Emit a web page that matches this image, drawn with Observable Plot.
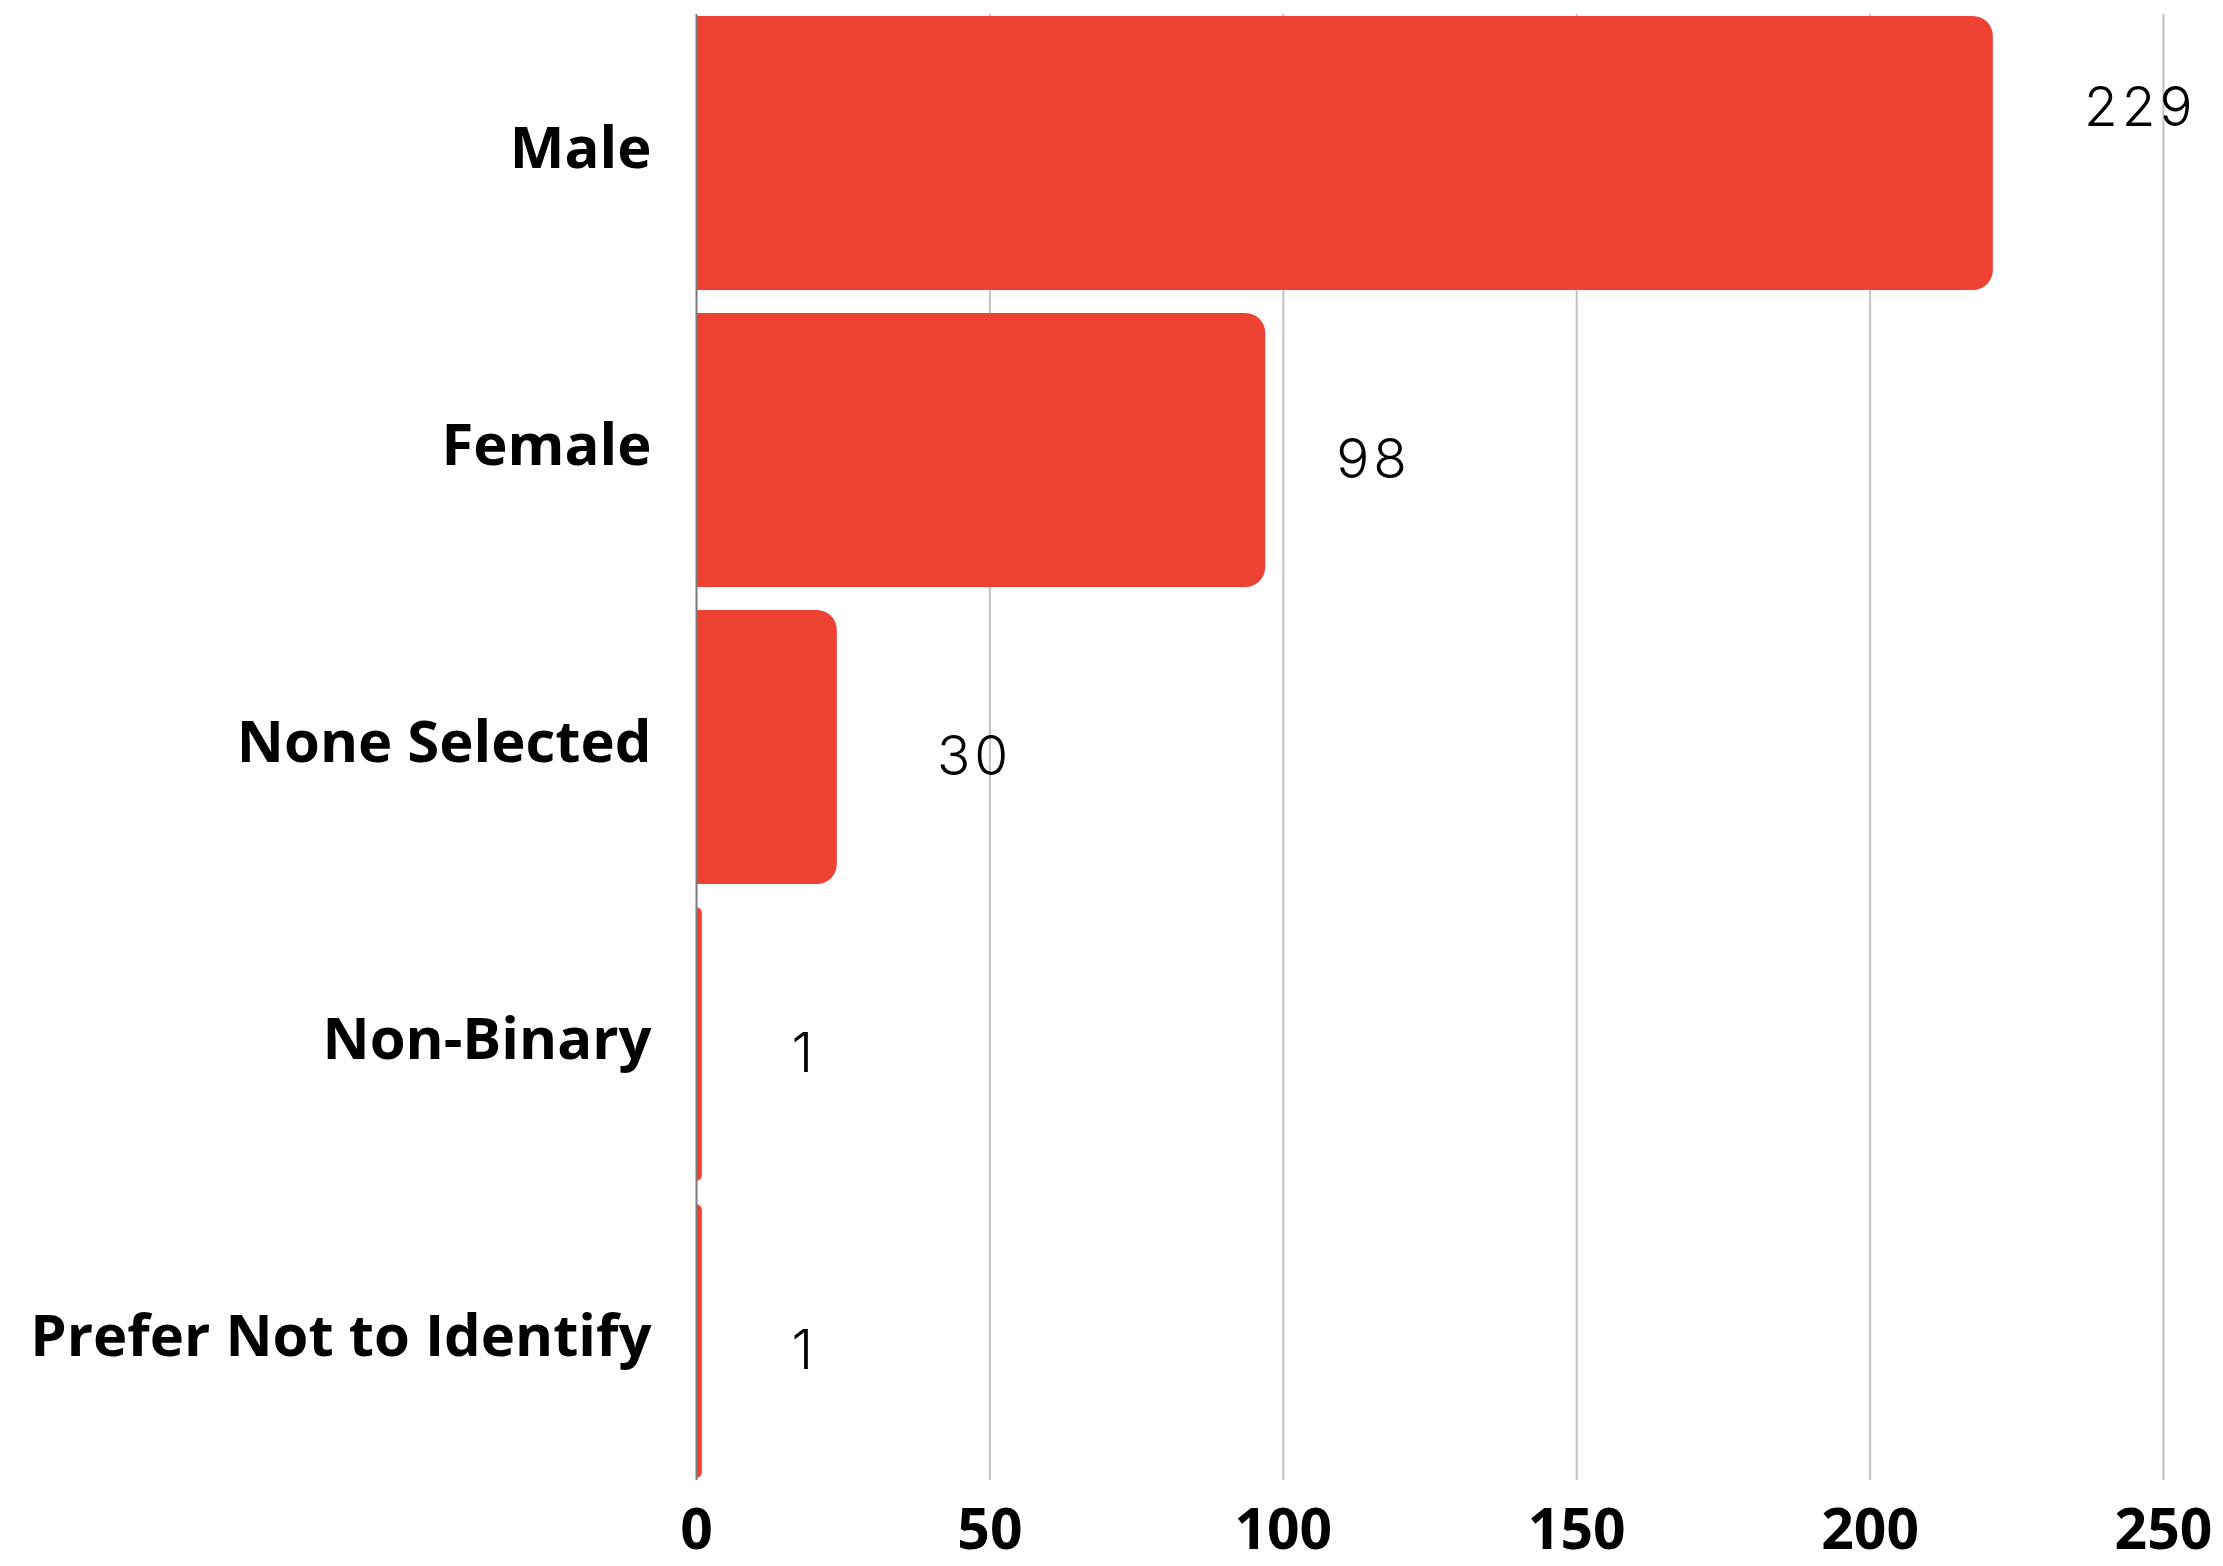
<!DOCTYPE html>
<html>
<head>
<meta charset="utf-8">
<script src="https://cdn.jsdelivr.net/npm/d3@7"></script>
<script src="https://cdn.jsdelivr.net/npm/@observablehq/plot@0.6"></script>
<style>
  html, body { margin: 0; padding: 0; background: #ffffff; }
  #chart svg { display: block; }
</style>
</head>
<body>
<div id="chart"></div>
<script>
// Categories (top to bottom)
const categories = ["Male", "Female", "None Selected", "Non-Binary", "Prefer Not to Identify"];
// Bar lengths as drawn in the picture
const barLengths = [221, 97, 24, 1, 1];
// Value labels printed next to the bars
const counts = [229, 98, 30, 1, 1];
// X-axis tick values
const xTicks = [0, 50, 100, 150, 200, 250];

const data = categories.map((c, i) => ({category: c, length: barLengths[i], count: counts[i]}));

const labelStyle = {fontSize: 55, fontWeight: 300, fontFamily: "Inter, sans-serif", fill: "#000"};

const chart = Plot.plot({
  width: 2223,
  height: 1566,
  marginLeft: 696,
  marginRight: 60,
  marginTop: 14,
  marginBottom: 86,
  style: {fontFamily: "'Open Sans', sans-serif", background: "#ffffff", color: "#000"},
  x: {domain: [0, 250], ticks: xTicks, label: null},
  y: {domain: categories, paddingInner: 0.077, paddingOuter: 0, label: null},
  marks: [
    Plot.gridX(xTicks.filter(t => t > 0), {stroke: "#c2c2c2", strokeOpacity: 1, strokeWidth: 2}),
    Plot.barX(data, {x: "length", y: "category", fill: "#EE4235", rx2: 20}),
    Plot.ruleX([0], {stroke: "#7a7a7a", strokeWidth: 2}),
    Plot.axisX({ticks: xTicks, tickSize: 0, tickPadding: 28, fontSize: 57, fontWeight: 700, label: null, fill: "#000"}),
    Plot.axisY({tickSize: 0, tickPadding: 45, fontSize: 58, fontWeight: 700, dy: -4, label: null, fill: "#000"}),
    Plot.text(data, {filter: d => d.count > 200, x: "count", y: "category", text: d => String(d.count),
      dx: 100, dy: -45, ...labelStyle}),
    Plot.text(data, {filter: d => d.count <= 200, x: "count", y: "category", text: d => String(d.count),
      dx: 102, dy: 10, ...labelStyle})
  ]
});

d3.select(chart).selectAll("g[aria-label='text'] text").style("letter-spacing", "4px");
document.getElementById("chart").appendChild(chart);
</script>
</body>
</html>
